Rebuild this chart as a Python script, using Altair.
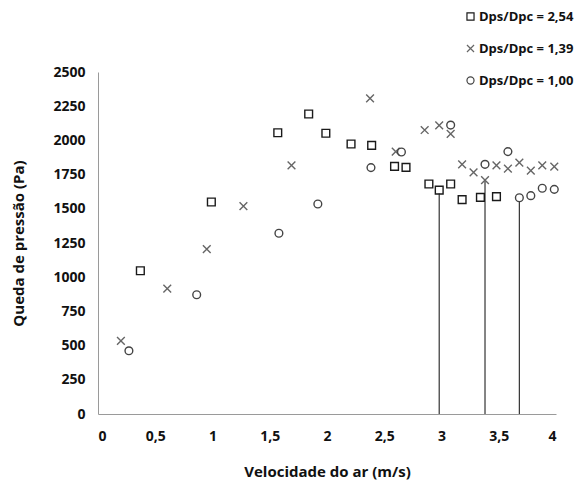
import altair as alt
import pandas as pd

# Series: Dps/Dpc = 2,54 (squares)
sq_x = [0.37, 0.99, 1.57, 1.84, 1.99, 2.21, 2.39, 2.59, 2.69, 2.89, 2.98, 3.08, 3.18, 3.34, 3.48]
sq_y = [1047, 1550, 2056, 2193, 2052, 1974, 1964, 1810, 1803, 1681, 1637, 1681, 1567, 1584, 1589]
# Series: Dps/Dpc = 1,39 (crosses)
cr_x = [0.20, 0.605, 0.95, 1.27, 1.69, 2.376, 2.60, 2.853, 2.98, 3.08, 3.18, 3.28, 3.38, 3.48, 3.58, 3.68, 3.78, 3.88, 3.985]
cr_y = [534, 916, 1206, 1520, 1818, 2308, 1918, 2076, 2110, 2047, 1825, 1767, 1710, 1818, 1793, 1837, 1779, 1818, 1808]
# Series: Dps/Dpc = 1,00 (circles)
ci_x = [0.27, 0.862, 1.58, 1.92, 2.384, 2.65, 3.08, 3.38, 3.58, 3.68, 3.78, 3.88, 3.985]
ci_y = [462, 872, 1321, 1535, 1801, 1915, 2112, 1825, 1918, 1581, 1596, 1650, 1642]

series_names = ["Dps/Dpc = 2,54", "Dps/Dpc = 1,39", "Dps/Dpc = 1,00"]

# Vertical reference lines
vline_x = [2.98, 3.38, 3.68]
vline_top = [1612, 1710, 1552]

x_ticks = [0, 0.5, 1, 1.5, 2, 2.5, 3, 3.5, 4]
y_ticks = [0, 250, 500, 750, 1000, 1250, 1500, 1750, 2000, 2250, 2500]

rows = []
for name, xs, ys in zip(series_names, [sq_x, cr_x, ci_x], [sq_y, cr_y, ci_y]):
    for a, b in zip(xs, ys):
        rows.append({"v": a, "p": b, "serie": name})
df = pd.DataFrame(rows)
lines = pd.DataFrame({"v": vline_x, "p": vline_top, "base": [0] * len(vline_x)})

FONT = "Open Sans"

x_scale = alt.Scale(domain=[0, 4], nice=False)
y_scale = alt.Scale(domain=[0, 2500], nice=False)

x_axis = alt.Axis(
    title="Velocidade do ar (m/s)",
    values=x_ticks,
    labelExpr="replace(toString(datum.value), '.', ',')",
    labelOverlap=False,
    grid=False,
    ticks=False,
    domainColor="#9a9a9a",
    labelPadding=15,
    titlePadding=21,
    titleFontSize=15,
)
y_axis = alt.Axis(
    title="Queda de pressão (Pa)",
    values=y_ticks,
    format="d",
    labelOverlap=False,
    grid=False,
    ticks=False,
    domainColor="#9a9a9a",
    labelPadding=13,
    titlePadding=26,
    titleFontSize=15,
)

rules = alt.Chart(lines).mark_rule(color="#333333", strokeWidth=1.2).encode(
    x=alt.X("v:Q", scale=x_scale, axis=x_axis),
    y=alt.Y("base:Q", scale=y_scale, axis=y_axis),
    y2="p:Q",
)

points = alt.Chart(df).mark_point(filled=False, strokeWidth=1.4, size=60, opacity=1).encode(
    x=alt.X("v:Q", scale=x_scale, axis=x_axis),
    y=alt.Y("p:Q", scale=y_scale, axis=y_axis),
    shape=alt.Shape(
        "serie:N",
        scale=alt.Scale(domain=series_names, range=["square", "M-1,-1L1,1M1,-1L-1,1", "circle"]),
        legend=alt.Legend(title=None),
    ),
    color=alt.Color(
        "serie:N",
        scale=alt.Scale(domain=series_names, range=["#1a1a1a", "#666666", "#444444"]),
        legend=alt.Legend(title=None),
    ),
)

chart = (
    alt.layer(rules, points)
    .properties(
        width=458,
        height=342,
        autosize=alt.AutoSizeParams(type="none"),
        padding={"left": 90, "top": 64, "right": 23, "bottom": 66},
    )
    .configure_view(stroke=None)
    .configure_axis(
        labelFont=FONT,
        titleFont=FONT,
        labelFontSize=14,
        labelFontWeight="bold",
        labelColor="#111111",
        titleFontWeight="bold",
        titleColor="#111111",
    )
    .configure_legend(
        orient="none",
        legendX=366,
        legendY=-62,
        padding=0,
        rowPadding=18,
        labelFont=FONT,
        labelFontSize=13,
        labelFontWeight="bold",
        labelColor="#111111",
        labelOffset=2,
        symbolSize=50,
        symbolStrokeWidth=1.2,
    )
)

chart.save("out.html", embed_options={"renderer": "svg", "actions": False})
